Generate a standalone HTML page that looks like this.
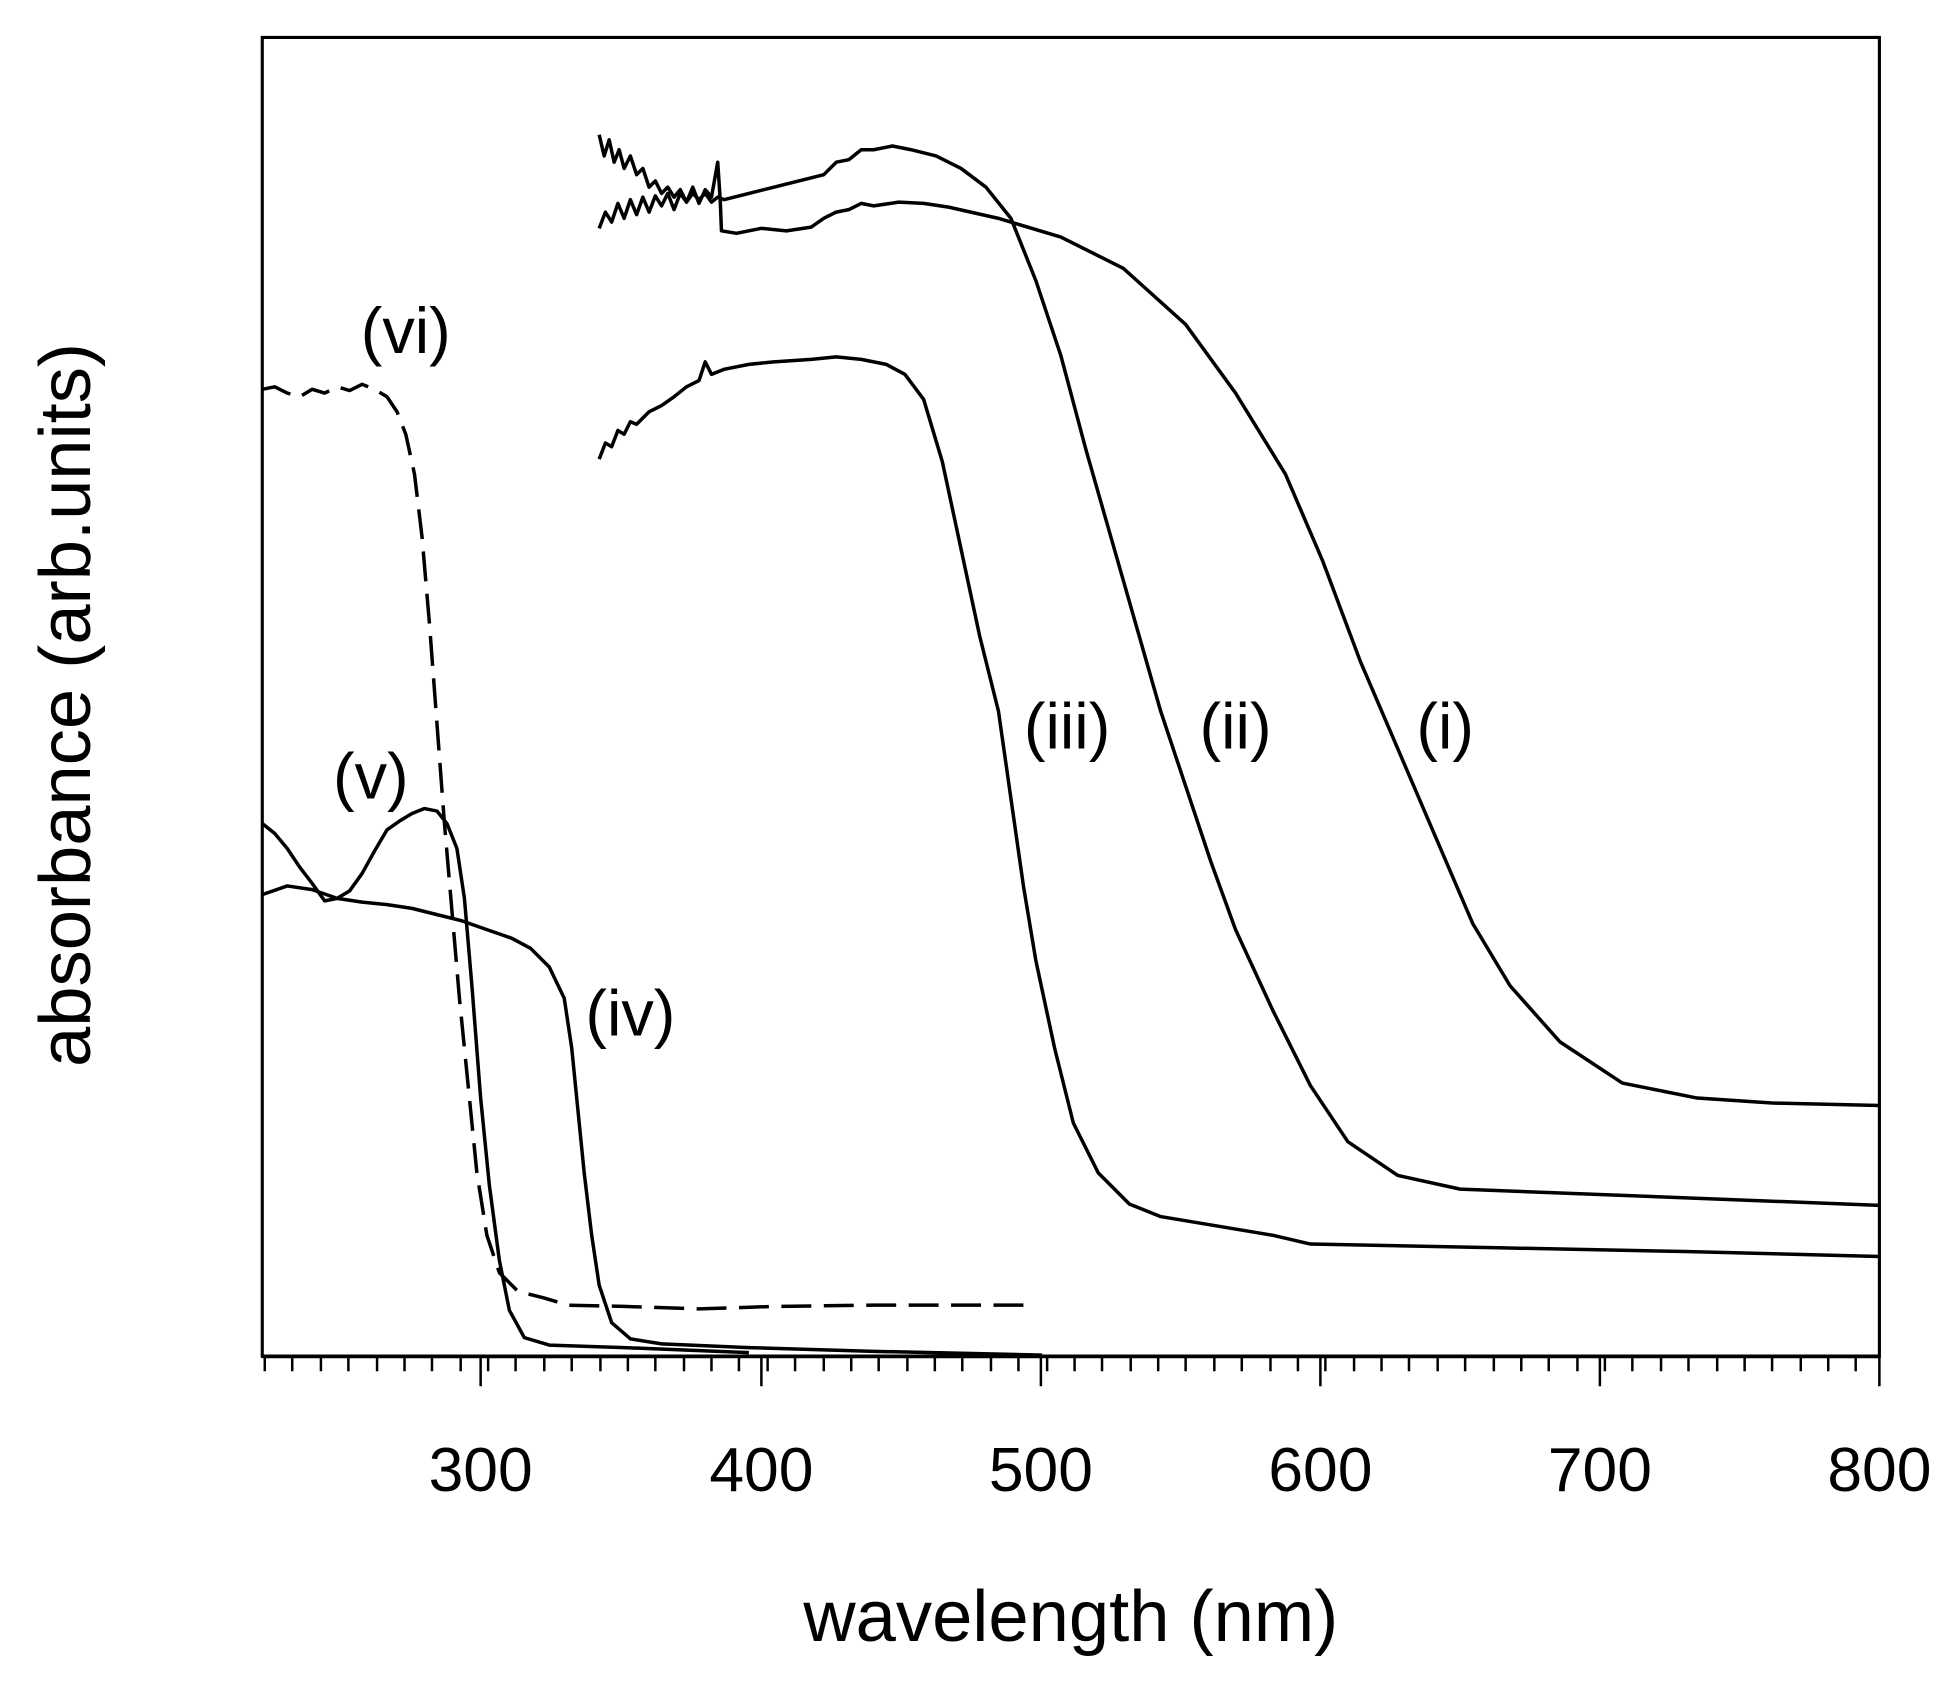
<!DOCTYPE html>
<html><head><style>body{margin:0;background:#fff}svg{display:block}</style></head>
<body>
<svg width="1957" height="1682" viewBox="0 0 1568 1348" xmlns="http://www.w3.org/2000/svg" font-family="Liberation Sans, Arial, sans-serif">
<rect width="1568" height="1348" fill="#fff"/>
<rect x="210" y="30" width="1296" height="1057" fill="none" stroke="#000" stroke-width="2.5"/>
<g stroke="#000" stroke-width="2">
<line x1="210" y1="1087" x2="1506" y2="1087" stroke-width="3"/>
<path d="M212 1087v12M234 1087v12M257 1087v12M279 1087v12M302 1087v12M324 1087v12M346 1087v12M369 1087v12M391 1087v12M413 1087v12M436 1087v12M458 1087v12M481 1087v12M503 1087v12M525 1087v12M548 1087v12M570 1087v12M592 1087v12M615 1087v12M637 1087v12M660 1087v12M682 1087v12M704 1087v12M727 1087v12M749 1087v12M771 1087v12M794 1087v12M816 1087v12M839 1087v12M861 1087v12M883 1087v12M906 1087v12M928 1087v12M950 1087v12M973 1087v12M995 1087v12M1018 1087v12M1040 1087v12M1062 1087v12M1085 1087v12M1107 1087v12M1129 1087v12M1152 1087v12M1174 1087v12M1197 1087v12M1219 1087v12M1241 1087v12M1264 1087v12M1286 1087v12M1308 1087v12M1331 1087v12M1353 1087v12M1376 1087v12M1398 1087v12M1420 1087v12M1443 1087v12M1465 1087v12M1487 1087v12"/>
<path d="M385 1087v24M610 1087v24M834 1087v24M1058 1087v24M1282 1087v24M1506 1087v24"/>
</g>
<g font-size="50" text-anchor="middle" fill="#000">
<text x="385" y="1195">300</text><text x="610" y="1195">400</text><text x="834" y="1195">500</text><text x="1058" y="1195">600</text><text x="1282" y="1195">700</text><text x="1506" y="1195">800</text>
<text x="858" y="1315" font-size="58">wavelength (nm)</text>
<text transform="translate(72,565) rotate(-90)" font-size="58">absorbance (arb.units)</text>
<text x="325" y="283" font-size="52">(vi)</text>
<text x="297" y="640" font-size="52">(v)</text>
<text x="505" y="830" font-size="52">(iv)</text>
<text x="855" y="600" font-size="52">(iii)</text>
<text x="990" y="600" font-size="52">(ii)</text>
<text x="1158" y="600" font-size="52">(i)</text>
</g>
<g fill="none" stroke="#000" stroke-width="2.8" stroke-linejoin="round">
<polyline points="480,183 485,170 490,178 495,163 500,175 505,160 510,172 515,158 520,170 525,157 530,165 535,155 540,168 545,155 550,162 555,150 560,163 565,152 570,158 575,130 577,160 578,185 590,187 610,183 630,185 650,182 660,175 670,170 680,168 690,163 700,165 720,162 740,163 760,166 800,175 850,190 900,215 950,260 990,315 1030,380 1060,450 1090,530 1120,600 1150,670 1180,740 1210,790 1250,835 1300,868 1360,880 1420,884 1506,886"/>
<polyline points="480,108 484,125 488,112 492,130 496,120 500,135 505,125 510,140 515,135 520,150 525,145 530,155 535,150 540,158 545,152 550,162 555,155 560,160 565,155 570,162 575,158 580,160 600,155 620,150 640,145 660,140 670,130 680,128 690,120 700,120 715,117 730,120 750,125 770,135 790,150 810,175 830,225 850,285 870,360 890,430 910,500 930,570 950,630 970,690 990,745 1020,810 1050,870 1080,915 1120,942 1170,953 1300,958 1506,966"/>
<polyline points="480,368 485,355 490,358 495,345 500,348 505,338 510,340 520,330 530,325 540,318 550,310 560,305 565,290 570,300 580,296 600,292 620,290 650,288 670,286 690,288 710,292 725,300 740,320 755,370 770,440 785,510 800,570 810,640 820,710 830,770 845,840 860,900 880,940 905,965 930,975 960,980 990,985 1020,990 1050,997 1100,998 1200,1000 1350,1003 1506,1007"/>
<polyline points="210,717 230,710 250,713 270,720 290,723 310,725 330,728 350,733 370,738 390,745 410,752 425,760 440,775 452,800 458,840 463,890 468,940 474,990 480,1030 490,1060 505,1073 530,1077 600,1080 700,1083 835,1086"/>
<polyline points="210,660 220,668 230,680 240,695 250,708 260,722 270,720 280,714 290,700 300,682 310,665 320,658 330,652 340,648 350,650 358,660 366,680 372,720 378,790 385,880 392,950 400,1010 408,1050 420,1072 440,1078 500,1080 600,1084"/>
<polyline stroke-dasharray="24,10" points="210,312 220,310 230,315 240,318 250,312 260,315 270,310 280,313 290,308 300,312 310,318 318,330 325,348 332,380 338,430 344,500 350,580 356,660 362,730 368,800 375,870 382,940 390,990 400,1020 415,1035 435,1040 455,1046 500,1047 560,1049 620,1047 700,1046 830,1046"/>
</g>
</svg>
</body></html>
